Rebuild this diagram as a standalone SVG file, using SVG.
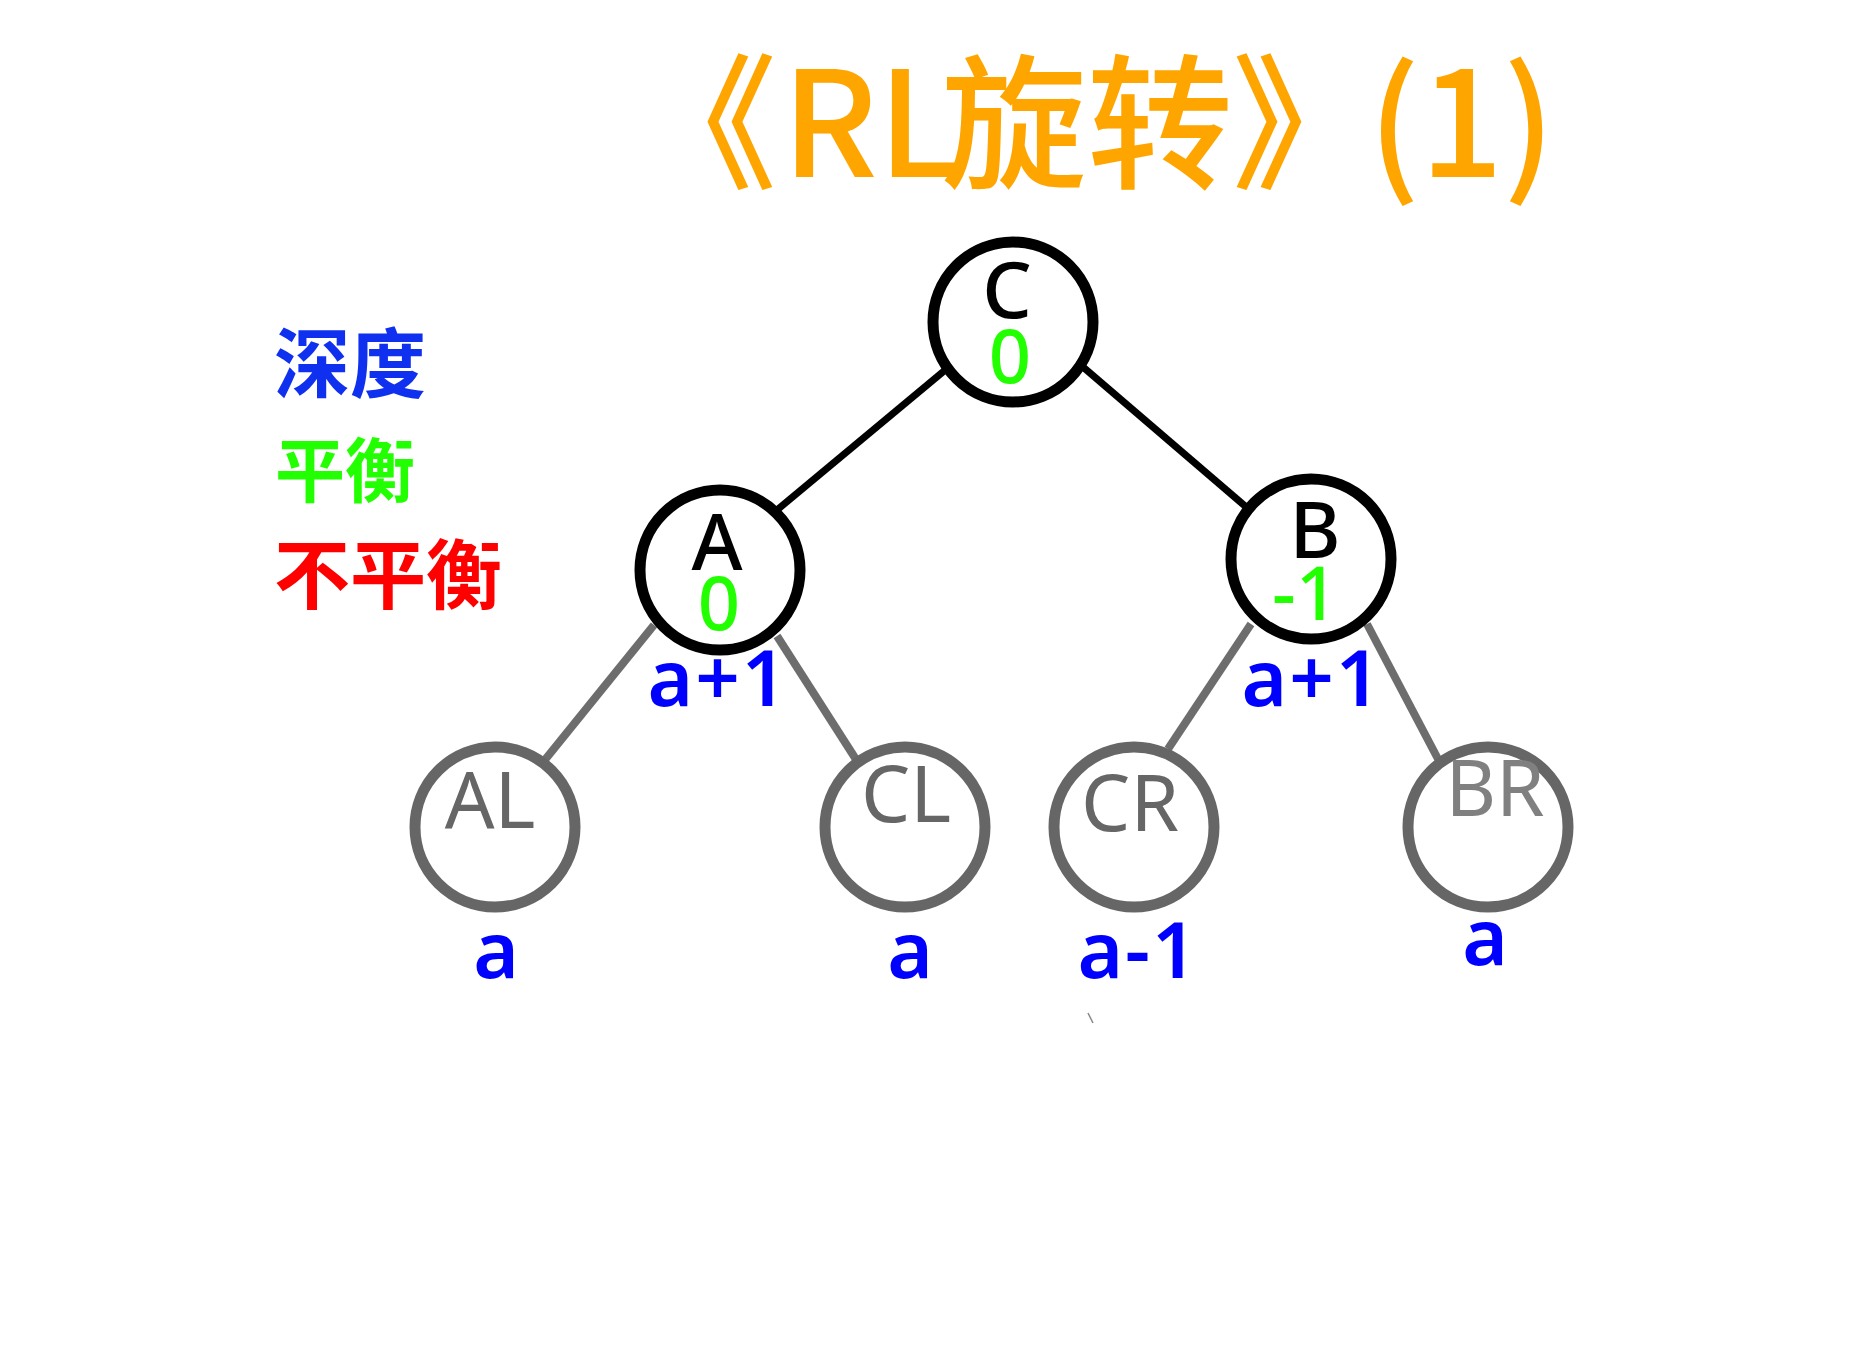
<svg xmlns="http://www.w3.org/2000/svg" width="1874" height="1356" viewBox="0 0 1874 1356">
<style>
.title{font-family:"Noto Sans CJK SC","Noto Sans",sans-serif;font-weight:500;font-size:146px;fill:#FFA500}
.leg{font-family:"Noto Sans CJK SC",sans-serif;font-weight:bold;font-size:76px}
.nb{fill:#fff;stroke:#000;stroke-width:11}
.ng{fill:#fff;stroke:#666;stroke-width:11}
.lbl{font-family:"Noto Sans","Open Sans",sans-serif;text-anchor:middle}
.name{font-size:78px;fill:#000;font-weight:500}
.gname{font-size:78px;fill:#666}
.bal{font-size:74px;fill:#22FF00;font-weight:500}
.dep{font-size:78px;fill:#0000FF;font-weight:600;letter-spacing:2px}
.eb{stroke:#000;stroke-width:7}
.eg{stroke:#6d6d6d;stroke-width:8}
</style>
<rect width="1874" height="1356" fill="#fff"/>
<text class="title" y="177"><tspan x="631">《</tspan><tspan x="782">RL</tspan><tspan x="941">旋转</tspan><tspan x="1232">》</tspan><tspan x="1368">(1)</tspan></text>
<g id="legend">
<text class="leg" x="274" y="392" fill="#1030F0">深度</text>
<text class="leg" x="275" y="497" fill="#22FF00" style="font-size:70px">平衡</text>
<text class="leg" x="274" y="603" fill="#FF0000">不平衡</text>
</g>
<g id="connectors">
<line class="eb" x1="944" y1="371" x2="777" y2="510"/>
<line class="eb" x1="1083" y1="367" x2="1245" y2="506"/>
<line class="eg" x1="654" y1="625" x2="544" y2="761"/>
<line class="eg" x1="777" y1="636" x2="857" y2="761"/>
<line class="eg" x1="1251" y1="624" x2="1168" y2="749"/>
<line class="eg" x1="1367" y1="624" x2="1438" y2="759"/>
<line x1="1088" y1="1013" x2="1093" y2="1023" stroke="#888" stroke-width="1.5"/>
</g>
<g id="node-C">
<circle class="nb" cx="1013" cy="322" r="80"/>
<text class="lbl name" x="1007" y="318">C</text>
<text class="lbl bal" x="1010" y="383">0</text>
</g>
<g id="node-A">
<circle class="nb" cx="720" cy="570" r="80"/>
<text class="lbl name" x="717" y="570">A</text>
<text class="lbl bal" x="719" y="630">0</text>
<text class="lbl dep" x="718" y="706">a+1</text>
</g>
<g id="node-B">
<circle class="nb" cx="1311" cy="559" r="80"/>
<text class="lbl name" x="1315" y="558">B</text>
<text class="lbl bal" x="1305" y="620">-1</text>
<text class="lbl dep" x="1312" y="706">a+1</text>
</g>
<g id="node-AL">
<circle class="ng" cx="495" cy="827" r="80"/>
<text class="lbl gname" x="490" y="828">AL</text>
<text class="lbl dep" x="497" y="978">a</text>
</g>
<g id="node-CL">
<circle class="ng" cx="905" cy="827" r="80"/>
<text class="lbl gname" x="906" y="822">CL</text>
<text class="lbl dep" x="911" y="978">a</text>
</g>
<g id="node-CR">
<circle class="ng" cx="1134" cy="827" r="80"/>
<text class="lbl gname" x="1130" y="831">CR</text>
<text class="lbl dep" x="1138" y="978">a-1</text>
</g>
<g id="node-BR">
<circle class="ng" cx="1488" cy="827" r="80"/>
<text class="lbl gname" x="1495" y="816" style="fill:#808080">BR</text>
<text class="lbl dep" x="1486" y="965">a</text>
</g>
</svg>
